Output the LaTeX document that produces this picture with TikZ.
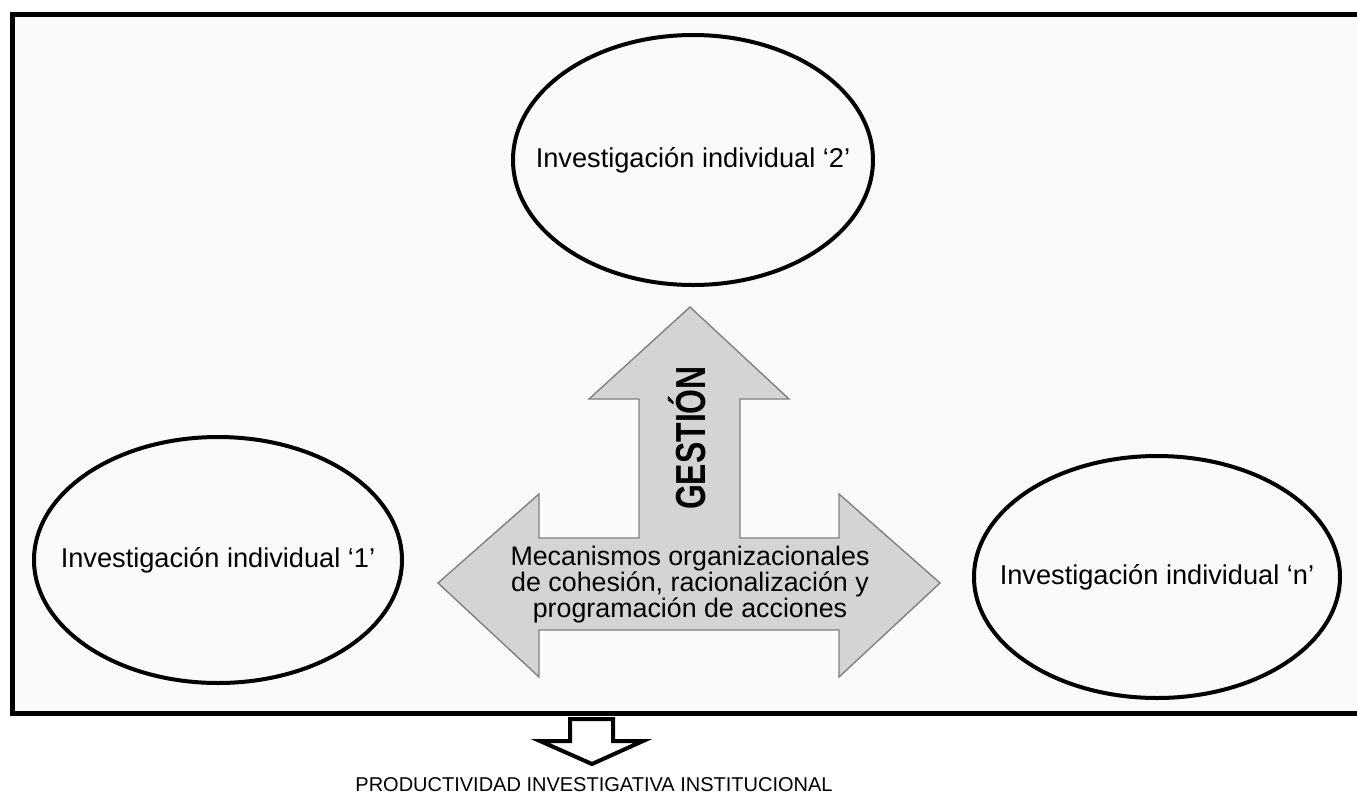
\documentclass[tikz,border=0pt]{standalone}
\usepackage{fontspec}
\setmainfont{Liberation Sans}
\usetikzlibrary{shapes.geometric}
\definecolor{boxfill}{HTML}{FAFAFA}
\definecolor{arrowfill}{HTML}{D4D4D4}
\definecolor{arrowline}{HTML}{808080}
\tikzset{
  invest/.style={ellipse, draw, line width=2pt, inner sep=0pt,
    font=\fontsize{13.6}{16}\selectfont},
}
\newcommand{\invtext}[1]{\makebox[0pt]{#1}}
\begin{document}
\begin{tikzpicture}[x=0.5pt,y=-0.5pt]
\useasboundingbox (0,0) rectangle (1357,794);
\fill[white] (0,0) rectangle (1357,794);

% frame
\fill[boxfill] (12.5,14) rectangle (1357,713);
\draw[line width=2.5pt] (1370,14) -- (12.5,14) -- (12.5,713) -- (1370,713);

% individual research
\node[invest, minimum width=180pt, minimum height=125pt] (inv2) at (693,160) {\invtext{Investigación individual ‘2’}};
\node[invest, minimum width=184pt, minimum height=123pt] (inv1) at (218,560) {\invtext{Investigación individual ‘1’}};
\node[invest, minimum width=183pt, minimum height=121pt] (invn) at (1157,577) {\invtext{Investigación individual ‘n’}};

% three way arrow
\draw[fill=arrowfill, draw=arrowline, line width=0.7pt, line join=miter]
  (690,307) -- (789,399) -- (740,399) -- (740,538) -- (839,538) -- (839,494)
  -- (940,583) -- (839,677) -- (839,630) -- (539,630) -- (539,677) -- (438,583)
  -- (539,494) -- (539,538) -- (639,538) -- (639,399) -- (589,399) -- cycle;
\node[rotate=90, anchor=base, font=\bfseries\fontsize{21}{21}\selectfont] (gestion) at (705,438) {\scalebox{0.76}[1]{GESTIÓN}};
\node[align=center, font=\fontsize{13.4}{13}\selectfont] (meca) at (690,585) {Mecanismos organizacionales\\de cohesión, racionalización y\\programación de acciones};

% result
\draw[line width=2pt, line join=miter] (570,719) -- (613,719) -- (613,741) -- (643,741)
  -- (592,764) -- (540,741) -- (570,741) -- cycle;
\node[anchor=base, font=\fontsize{10}{12}\selectfont] (prod) at (594,791) {PRODUCTIVIDAD INVESTIGATIVA INSTITUCIONAL};
\end{tikzpicture}
\end{document}
